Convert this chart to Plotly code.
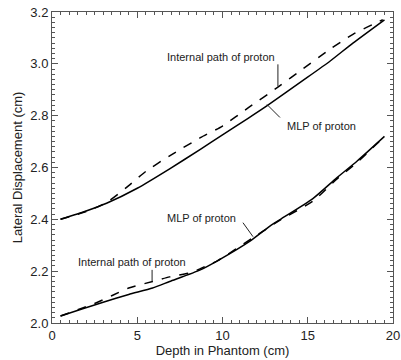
import plotly.graph_objects as go

# Upper pair
upper_mlp_x = [0.5, 2.0, 3.2, 5.0, 6.9, 8.7, 10.0, 11.5, 12.6, 14.7, 16.3, 17.65, 19.5]
upper_mlp_y = [2.400, 2.432, 2.462, 2.520, 2.595, 2.670, 2.726, 2.790, 2.838, 2.935, 3.010, 3.080, 3.170]
upper_int_x = [0.5, 2.0, 3.2, 4.5, 5.5, 6.9, 8.7, 10.0, 11.5, 13.25, 14.7, 16.3, 17.65, 19.4]
upper_int_y = [2.400, 2.430, 2.465, 2.530, 2.585, 2.645, 2.715, 2.760, 2.830, 2.910, 2.980, 3.056, 3.114, 3.170]

# Lower pair
lower_mlp_x = [0.5, 1.8, 3.0, 4.5, 5.9, 6.9, 8.7, 9.7, 11.7, 12.8, 13.4, 15.3, 16.7, 17.9, 19.5]
lower_mlp_y = [2.027, 2.055, 2.080, 2.110, 2.135, 2.160, 2.205, 2.240, 2.320, 2.375, 2.400, 2.480, 2.560, 2.625, 2.720]
lower_int_x = [0.5, 1.8, 2.5, 3.5, 4.5, 5.9, 6.9, 8.2, 8.7, 9.7, 11.7, 13.4, 15.3, 16.7, 17.9, 19.5]
lower_int_y = [2.027, 2.058, 2.075, 2.105, 2.135, 2.160, 2.178, 2.195, 2.210, 2.240, 2.325, 2.398, 2.470, 2.555, 2.620, 2.720]

labels = ["Internal path of proton", "MLP of proton", "MLP of proton", "Internal path of proton"]
label_x = [9.91, 15.78, 8.74, 4.72]
label_y = [3.025, 2.762, 2.406, 2.236]
pointer_x0 = [13.25, 13.37, 11.2, 5.87]
pointer_y0 = [2.998, 2.793, 2.387, 2.205]
pointer_x1 = [13.25, 12.61, 11.79, 5.87]
pointer_y1 = [2.913, 2.843, 2.333, 2.159]

FONT = "Liberation Sans, Arial, sans-serif"
INK = "#222222"

fig = go.Figure()
for xs, ys, dash in [(upper_mlp_x, upper_mlp_y, "solid"), (upper_int_x, upper_int_y, "dash"),
                     (lower_mlp_x, lower_mlp_y, "solid"), (lower_int_x, lower_int_y, "dash")]:
    fig.add_trace(go.Scatter(x=xs, y=ys, mode="lines",
                             line=dict(color="black", width=1.5, dash=dash, shape="spline", smoothing=0.6),
                             showlegend=False, hoverinfo="skip"))

for t, x, y in zip(labels, label_x, label_y):
    fig.add_annotation(x=x, y=y, text=t, showarrow=False, font=dict(family=FONT, size=11, color=INK))
for x0, y0, x1, y1 in zip(pointer_x0, pointer_y0, pointer_x1, pointer_y1):
    fig.add_shape(type="line", x0=x0, y0=y0, x1=x1, y1=y1, line=dict(color=INK, width=1))

axis_common = dict(showline=True, linecolor="#555555", linewidth=1, mirror="ticks", ticks="inside",
                   tickcolor="#555555", ticklen=6, showgrid=False, zeroline=False, automargin=False,
                   tickfont=dict(family=FONT, size=13, color=INK))
fig.update_xaxes(range=[0, 20], dtick=5, tick0=0,
                 title=dict(text="Depth in Phantom (cm)", standoff=0, font=dict(family=FONT, size=13, color=INK)),
                 minor=dict(ticks="inside", dtick=0.5, ticklen=3, tickcolor="#555555"), **axis_common)
fig.update_yaxes(range=[2.0, 3.2], dtick=0.2, tick0=2.0, tickformat=".1f",
                 title=dict(text="Lateral Displacement (cm)", standoff=4, font=dict(family=FONT, size=13, color=INK)),
                 minor=dict(ticks="inside", dtick=0.02, ticklen=3, tickcolor="#555555"), **axis_common)
fig.update_layout(width=401, height=360, margin=dict(l=52, r=8, t=12, b=37),
                  plot_bgcolor="white", paper_bgcolor="white")
fig.write_html("out.html", config={"displayModeBar": False},
               post_script="document.body.style.margin='0';document.body.style.overflow='hidden';")
